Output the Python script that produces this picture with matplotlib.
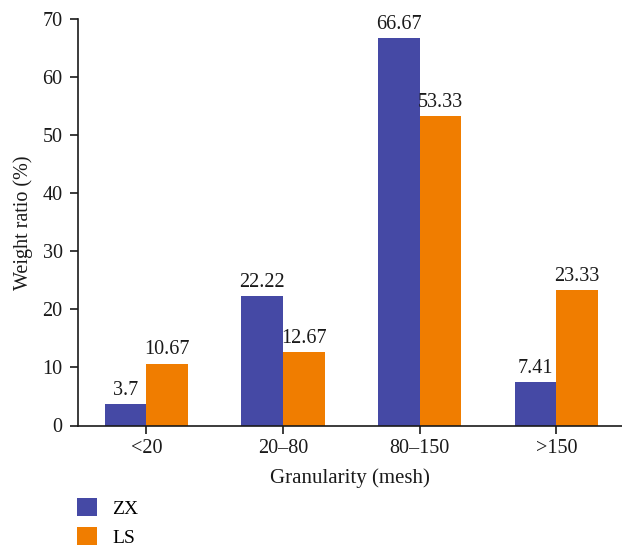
import matplotlib
matplotlib.use("Agg")
import matplotlib.pyplot as plt
import numpy as np
from matplotlib.patches import Patch

categories = ["<20", "20\u201380", "80\u2013150", ">150"]
zx = [3.7, 22.22, 66.67, 7.41]
ls = [10.67, 12.67, 53.33, 23.33]
zx_labels = ["3.7", "22.22", "66.67", "7.41"]
ls_labels = ["10.67", "12.67", "53.33", "23.33"]

blue = "#4549A5"
orange = "#F07D00"
ink = "#1a1a1a"
fs = 14.5

plt.rcParams["font.family"] = ["Liberation Serif", "DejaVu Serif"]
plt.rcParams["font.size"] = fs

fig = plt.figure(figsize=(6.22, 5.52), dpi=100)
ax = fig.add_axes([78 / 622, 1 - 425.5 / 552, 1 - 78 / 622, (425.5 - 19) / 552])

x = np.arange(len(categories))
w = 0.305
b1 = ax.bar(x - w / 2, zx, width=w, color=blue, label="ZX")
b2 = ax.bar(x + w / 2, ls, width=w, color=orange, label="LS")

for bars, labels in ((b1, zx_labels), (b2, ls_labels)):
    for rect, lab in zip(bars, labels):
        ax.annotate(lab, (rect.get_x() + rect.get_width() / 2, rect.get_height()),
                    xytext=(0, 3), textcoords="offset points", ha="center",
                    va="bottom", fontsize=fs, color=ink)

ax.set_xlim(-0.5, 3.48)
ax.set_ylim(0, 70)
ax.set_yticks(np.arange(0, 71, 10))
ax.set_xticks(x)
ax.set_xticklabels(categories)

for s in ["top", "right"]:
    ax.spines[s].set_visible(False)
for s in ["left", "bottom"]:
    ax.spines[s].set_linewidth(1.2)
    ax.spines[s].set_color(ink)

ax.tick_params(axis="both", direction="out", length=6, width=1.2, colors=ink,
               labelsize=fs, labelcolor=ink)
ax.tick_params(axis="x", pad=4)
ax.tick_params(axis="y", pad=5)

ax.set_ylabel("Weight ratio (%)", fontsize=fs, color=ink, labelpad=7)
ax.set_xlabel("Granularity (mesh)", fontsize=15, color=ink, labelpad=7)

handles = [Patch(facecolor=blue, label="ZX"), Patch(facecolor=orange, label="LS")]
fig.legend(handles=handles, loc="upper left", bbox_to_anchor=(77 / 622, 1 - 498 / 552),
           frameon=False, fontsize=14, handlelength=1.05, handleheight=1.05,
           handletextpad=0.75, labelspacing=0.5, borderaxespad=0, borderpad=0)

fig.savefig("out.png", dpi=100)
